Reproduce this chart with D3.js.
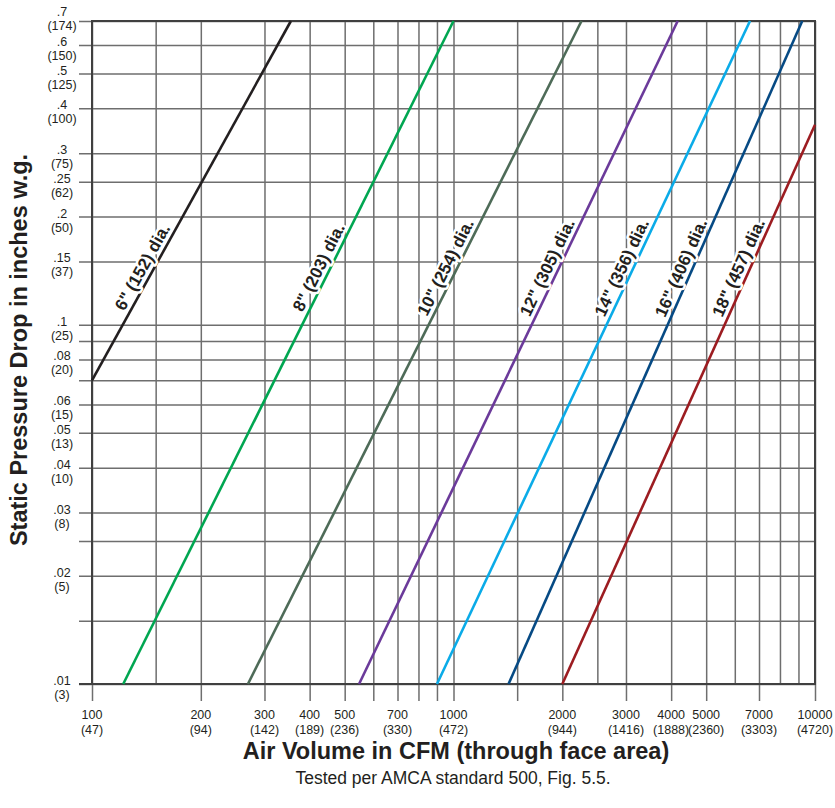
<!DOCTYPE html>
<html>
<head>
<meta charset="utf-8">
<script src="https://cdn.jsdelivr.net/npm/d3@7"></script>
<style>
  body { margin: 0; background: #fff; }
  svg { display: block; font-family: "Liberation Sans", Arial, Helvetica, sans-serif; }
  .grid line { stroke: #6e6e6e; stroke-width: 1.5; }
  .grid .domain { display: none; }
  .tick-lbl { font-size: 12.5px; fill: #231f20; }
  .frame { stroke: #404040; stroke-width: 2; fill: none; }
  .dia-lbl { font-size: 17px; font-weight: bold; fill: #231f20; stroke: #fff; stroke-width: 5px; stroke-linejoin: round; paint-order: stroke; }
  .title { font-weight: bold; font-size: 23.5px; fill: #231f20; }
</style>
</head>
<body>
<div id="chart"></div>
<script>
// gridlines (log spaced) and labelled ticks
var xGrid = [100, 150, 200, 300, 400, 500, 600, 700, 800, 900, 1000, 1500, 2000, 2500, 3000, 4000, 5000, 6000, 7000, 8000, 9000, 10000];
var xTicks = [100, 200, 300, 400, 500, 600, 700, 800, 900, 1000, 1500, 2000, 3000, 4000, 5000, 7000, 10000];
var xLabels = [100, 200, 300, 400, 500, 700, 1000, 2000, 3000, 4000, 5000, 7000, 10000];
var xMetric = [47, 94, 142, 189, 236, 330, 472, 944, 1416, 1888, 2360, 3303, 4720];

var yGrid = [0.01, 0.015, 0.02, 0.025, 0.03, 0.04, 0.05, 0.06, 0.07, 0.08, 0.09, 0.1, 0.15, 0.2, 0.25, 0.3, 0.4, 0.5, 0.6, 0.7];
var yLabels = [0.7, 0.6, 0.5, 0.4, 0.3, 0.25, 0.2, 0.15, 0.1, 0.08, 0.06, 0.05, 0.04, 0.03, 0.02, 0.01];
var yMetric = [174, 150, 125, 100, 75, 62, 50, 37, 25, 20, 15, 13, 10, 8, 5, 3];

// diameter curves: air volume (CFM) and pressure (in. w.g.) at each end
var diameters = ['6" (152) dia.', '8" (203) dia.', '10" (254) dia.', '12" (305) dia.', '14" (356) dia.', '16" (406) dia.', '18" (457) dia.'];
var lineCFM = [[100, 355], [122, 1000], [270, 2260], [548, 4170], [900, 6610], [1420, 9220], [2000, 10000]];
var linePressure = [[0.07, 0.7], [0.01, 0.7], [0.01, 0.7], [0.01, 0.7], [0.01, 0.7], [0.01, 0.7], [0.01, 0.36]];
var lineColors = ['#231f20', '#00a651', '#4e6b58', '#6b3a9a', '#0aabe8', '#064a84', '#9c1c21'];

var W = 835, H = 808;
var margin = {top: 21, right: 20, bottom: 124, left: 92};
var x0 = margin.left, x1 = W - margin.right, yTop = margin.top, yBot = H - margin.bottom;

var x = d3.scaleLog().domain([100, 10000]).range([x0, x1]);
var y = d3.scaleLog().domain([0.01, 0.7]).range([yBot, yTop]);

var svg = d3.select('#chart').append('svg')
    .attr('width', W)
    .attr('height', H);

// horizontal grid, sticking out left of the axis
svg.append('g')
    .attr('class', 'grid')
    .attr('transform', 'translate(' + (x0 - 13) + ',0)')
    .call(d3.axisLeft(y).tickValues(yGrid).tickSize(-(x1 - x0 + 13)).tickFormat(''));

// vertical grid
svg.append('g')
    .attr('class', 'grid')
    .attr('transform', 'translate(0,' + yBot + ')')
    .call(d3.axisBottom(x).tickValues(xGrid).tickSize(-(yBot - yTop)).tickFormat(''));

// tick marks below x axis
svg.append('g')
    .attr('class', 'grid')
    .attr('transform', 'translate(0,' + yBot + ')')
    .call(d3.axisBottom(x).tickValues(xTicks).tickSize(17).tickFormat(''));

// frame
svg.append('path')
    .attr('class', 'frame')
    .attr('d', 'M' + (x0 - 13) + ',' + yBot + 'H' + x1 + 'V' + yTop + 'H' + x0 + 'V' + yBot);

// x labels
var xl = svg.append('g').selectAll('text')
    .data(xLabels)
    .enter().append('text')
    .attr('class', 'tick-lbl')
    .attr('text-anchor', 'middle')
    .attr('x', function(d) { return x(d); })
    .attr('y', yBot + 35);
xl.append('tspan').text(function(d) { return d; });
xl.append('tspan')
    .attr('x', function(d) { return x(d); })
    .attr('dy', 15)
    .text(function(d, i) { return '(' + xMetric[i] + ')'; });

// y labels
var fmt = function(v) { return String(v).replace(/^0/, ''); };
var yl = svg.append('g').selectAll('text')
    .data(yLabels)
    .enter().append('text')
    .attr('class', 'tick-lbl')
    .attr('text-anchor', 'middle')
    .attr('x', 62)
    .attr('y', function(d, i) { return y(d) + (i === 0 ? -5 : 1); });
yl.append('tspan').text(function(d) { return fmt(d); });
yl.append('tspan')
    .attr('x', 62)
    .attr('dy', 14)
    .text(function(d, i) { return '(' + yMetric[i] + ')'; });

// diameter lines
var lines = diameters.map(function(name, i) {
    return {name: name, color: lineColors[i],
        pts: [[lineCFM[i][0], linePressure[i][0]], [lineCFM[i][1], linePressure[i][1]]]};
});

var lineGen = d3.line()
    .x(function(d) { return x(d[0]); })
    .y(function(d) { return y(d[1]); });

svg.append('g').selectAll('path')
    .data(lines)
    .enter().append('path')
    .attr('d', function(d) { return lineGen(d.pts); })
    .attr('fill', 'none')
    .attr('stroke', function(d) { return d.color; })
    .attr('stroke-width', 2.6);

// labels along lines
var labelP = 0.14;
svg.append('g').selectAll('text')
    .data(lines)
    .enter().append('text')
    .attr('class', 'dia-lbl')
    .attr('text-anchor', 'middle')
    .attr('dy', -5)
    .attr('transform', function(d) {
        var ax = x(d.pts[0][0]), ay = y(d.pts[0][1]);
        var bx = x(d.pts[1][0]), by = y(d.pts[1][1]);
        var t = (y(labelP) - ay) / (by - ay);
        var px = ax + t * (bx - ax), py = ay + t * (by - ay);
        var ang = Math.atan2(by - ay, bx - ax) * 180 / Math.PI;
        return 'translate(' + px + ',' + py + ') rotate(' + ang + ')';
    })
    .text(function(d) { return d.name; });

// titles
svg.append('text')
    .attr('class', 'title')
    .attr('text-anchor', 'middle')
    .attr('transform', 'translate(27,350) rotate(-90)')
    .text('Static Pressure Drop in inches w.g.');

svg.append('text')
    .attr('class', 'title')
    .attr('text-anchor', 'middle')
    .attr('x', 456)
    .attr('y', 759)
    .text('Air Volume in CFM (through face area)');

svg.append('text')
    .attr('text-anchor', 'middle')
    .attr('x', 453)
    .attr('y', 784)
    .style('font-size', '17.5px')
    .style('fill', '#231f20')
    .text('Tested per AMCA standard 500, Fig. 5.5.');
</script>
</body>
</html>
